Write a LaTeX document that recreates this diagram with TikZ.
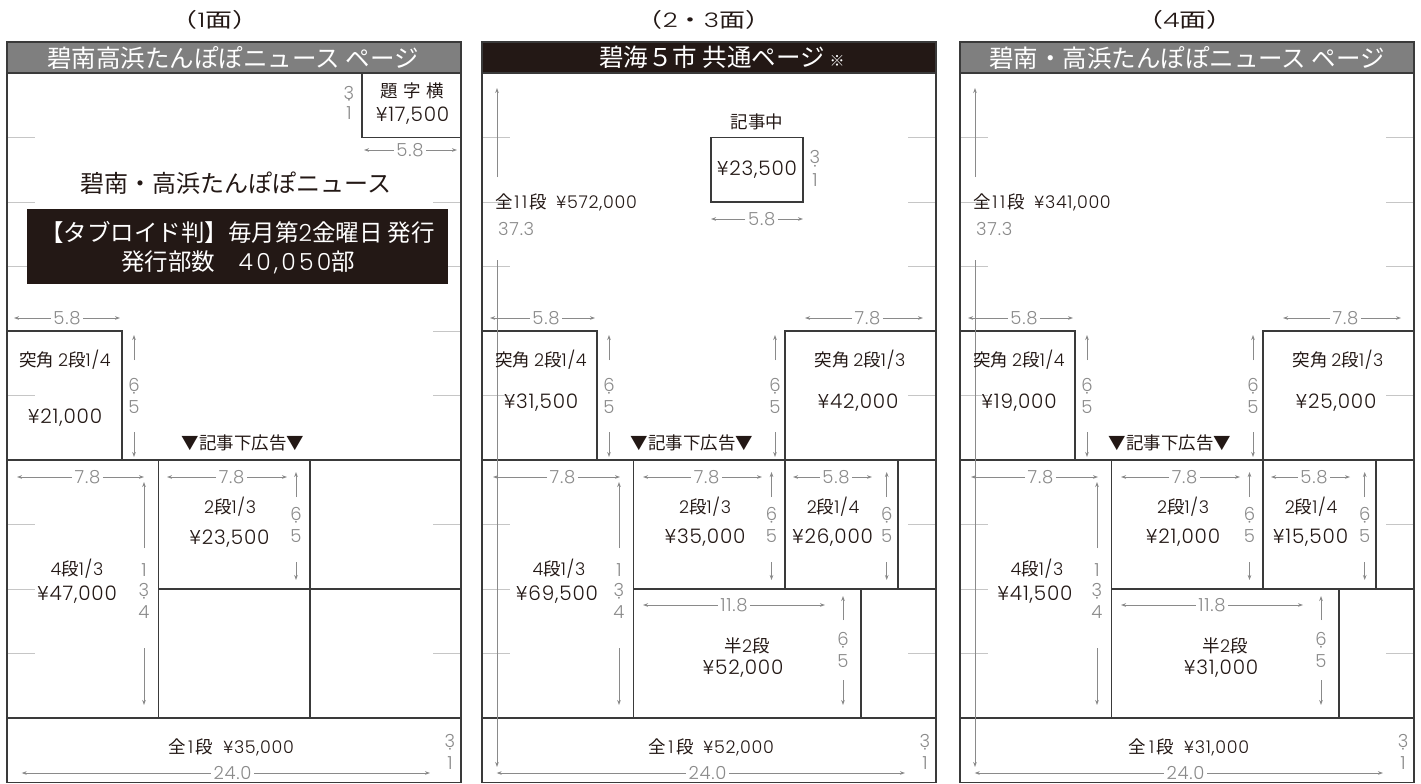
\documentclass[tikz,border=0pt]{standalone}
\usepackage{graphicx}
\usepackage{fontspec}
\setmainfont{Noto Sans CJK JP}
\newfontfamily\lat{Poppins Light}[LetterSpace=4]
\usetikzlibrary{arrows.meta}
\definecolor{ink}{HTML}{231815}
\definecolor{hdrgrey}{HTML}{7F7F7F}
\definecolor{dimgrey}{HTML}{8A8A8A}
\definecolor{tickgrey}{HTML}{C6C6C6}
\definecolor{linegrey}{HTML}{3A3A3A}

% horizontal dimension: name, x-left, x-right, x-text, y, text
\newcommand\HDim[6]{%
  \coordinate (#1l) at (#2,#5);
  \coordinate (#1r) at (#3,#5);
  \node[dimtxt] (#1) at (#4,#5) {#6};
  \draw[dimarr] (#1.west) -- (#1l);
  \draw[dimarr] (#1.east) -- (#1r);
}
% vertical dimension arrows: name, x, y-top tip, y-up end, y-down start, y-bottom tip
\newcommand\VArr[6]{%
  \coordinate (#1t) at (#2,#3);
  \coordinate (#1u) at (#2,#4);
  \coordinate (#1d) at (#2,#5);
  \coordinate (#1b) at (#2,#6);
  \draw[dimarr] (#1u) -- (#1t);
  \draw[dimarr] (#1d) -- (#1b);
}
% stacked number: name, x, y-middle, first, second, half gap
\newcommand\VNum[6]{%
  \node[vdimtxt] (#1a) at (#2,#3-#6) {#4};
  \node[vdimtxt] (#1p) at (#2,#3) {·};
  \node[vdimtxt] (#1b) at (#2,#3+#6) {#5};
}
\newcommand\SixFive[7]{% name, x, y1..y4, ymid
  \VArr{#1}{#2}{#3}{#4}{#5}{#6}
  \VNum{#1n}{#2}{#7}{6}{5}{11}
}
\newcommand\Ticks{%
  \foreach \k in {1,...,10}{%
    \draw[tick] (0,{73+64.5*\k}) -- (28,{73+64.5*\k});
    \draw[tick] (426,{73+64.5*\k}) -- (454,{73+64.5*\k});
  }%
}
\newcommand\Yen[1]{{\lat ¥#1}}
% common part of pages 2-3 and 4
% #1 full11, #2 tokkaku 1/4, #3 tokkaku 1/3, #4 2dan1/3, #5 2dan1/4, #6 4dan1/3, #7 han2dan, #8 zen1dan
\newcommand\MidPanel[8]{%
  \Ticks
  \draw[frame] (0,73) rectangle (454,782.5);
  \draw[cell] (0,331) rectangle (115,460);
  \draw[cell] (303,331) rectangle (454,460);
  \draw[cell] (0,460) -- (454,460);
  \draw[cell] (151.5,460) -- (151.5,718);
  \draw[cell] (303,460) -- (303,589);
  \draw[cell] (416,460) -- (416,589);
  \draw[cell] (151.5,589) -- (454,589);
  \draw[cell] (379,589) -- (379,718);
  \draw[cell] (0,718) -- (454,718);
  % full 11 dan
  \VArr{full}{15}{88}{177}{260}{767}
  \node[lbl,anchor=west] (fulltxt) at (13,202) {全\hspace{0.1em}{\lat 1\hspace{0.15em}1}\hspace{0.1em}段\hspace{0.55em}\Yen{#1}};
  \node[dimtxt,anchor=west,inner sep=0pt] (fulldim) at (16,229) {37.3};
  % tokkaku 2dan 1/4
  \HDim{w58}{8}{113}{64}{318}{5.8}
  \node[lbl] (tk4) at (59,360) {突角 {\lat 2}段{\lat 1/4}};
  \node[price] (tk4p) at (59,403) {\Yen{#2}};
  \SixFive{h1}{127}{335}{360}{432}{457}{396}
  \node[lbl] (kiji) at (210,443) {▼記事下広告▼};
  \SixFive{h2}{293}{335}{360}{432}{457}{396}
  % tokkaku 2dan 1/3
  \HDim{w78a}{323}{441}{385.5}{318}{7.8}
  \node[lbl] (tk3) at (378,360) {突角 {\lat 2}段{\lat 1/3}};
  \node[price] (tk3p) at (376,403) {\Yen{#3}};
  % 4dan 1/3
  \HDim{w78b}{11}{138}{80.5}{477}{7.8}
  \VArr{h3}{137}{482}{548}{648}{705}
  \node[vdimtxt] (h3one) at (137,570) {1};
  \VNum{h3n}{137}{601}{3}{4}{11}
  \node[lbl] (d4) at (77,569) {{\lat 4}段{\lat 1/3}};
  \node[price] (d4p) at (75,595) {\Yen{#6}};
  % 2dan 1/3
  \HDim{w78c}{161}{280}{224.7}{477}{7.8}
  \SixFive{h4}{289.5}{472}{497}{562}{580}{525}
  \node[lbl] (d23) at (223,507) {{\lat 2}段{\lat 1/3}};
  \node[price] (d23p) at (223,538) {\Yen{#4}};
  % 2dan 1/4
  \HDim{w58b}{311}{390}{354}{477}{5.8}
  \SixFive{h5}{404.7}{472}{497}{562}{580}{525}
  \node[lbl] (d24) at (351,507) {{\lat 2}段{\lat 1/4}};
  \node[price] (d24p) at (350.5,538) {\Yen{#5}};
  % han 2dan
  \HDim{w118}{161}{343}{252}{605}{11.8}
  \SixFive{h6}{361}{596}{620}{680}{705}{650}
  \node[lbl] (han) at (265,646) {半{\lat 2}段};
  \node[price] (hanp) at (261,669) {\Yen{#7}};
  % zen 1 dan
  \node[lbl] (z1) at (229,747) {全\hspace{0.15em}{\lat 1}\hspace{0.15em}段\hspace{0.55em}\Yen{#8}};
  \HDim{w240}{14.7}{423}{225.5}{773}{24.0}
  \VNum{h31}{443}{752}{3}{1}{11}
}

\begin{document}
\begin{tikzpicture}[x=1pt,y=-1pt,
  frame/.style={draw=linegrey,line width=1.4pt},
  cell/.style={draw=linegrey,line width=1.1pt},
  tick/.style={draw=tickgrey,line width=0.9pt},
  lbl/.style={inner sep=0pt,text=ink,font=\fontsize{17.5}{20}\selectfont},
  price/.style={inner sep=0pt,text=ink,font=\fontsize{20}{22}\selectfont},
  big/.style={inner sep=0pt,text=ink,font=\fontsize{24}{28}\selectfont},
  hdrtxt/.style={inner sep=0pt,text=white,font=\fontsize{24.5}{28}\selectfont},
  boxtxt/.style={inner sep=0pt,text=white,font=\fontsize{23.5}{28}\selectfont},
  title/.style={inner sep=0pt,text=ink,font=\fontsize{20}{24}\selectfont},
  dimtxt/.style={inner sep=2.5pt,text=dimgrey,font=\fontsize{18}{20}\selectfont\lat},
  vdimtxt/.style={inner sep=0pt,text=dimgrey,font=\fontsize{18}{20}\selectfont\lat},
  dimarr/.style={draw=dimgrey,line width=0.8pt,-{Stealth[length=5pt,width=3.6pt]}},
]
\useasboundingbox (0,0) rectangle (1421,784);

% titles
\node[title] (t1) at (215,20) {\scalebox{1.35}[1]{（{\lat 1}面）}};
\node[title] (t2) at (704,20) {\scalebox{1.3}[1]{（{\lat 2}・{\lat 3}面）}};
\node[title] (t3) at (1185,20) {\scalebox{1.35}[1]{（{\lat 4}面）}};

% ================= page 1 =================
\begin{scope}[shift={(7,0)},name prefix=p1-]
  \Ticks
  \draw[frame,fill=hdrgrey] (0,42) rectangle (454,73);
  \node[hdrtxt] (hdr) at (226,57.5) {碧南高浜たんぽぽニュース ページ};
  \draw[frame] (0,73) rectangle (454,782.5);
  % daiji yoko
  \draw[cell] (355,73) rectangle (454,137.5);
  \node[lbl] (dai) at (405,91) {題\hspace{0.3em}字\hspace{0.3em}横};
  \node[price] (daip) at (405.5,116) {\Yen{17,500}};
  \VNum{dai31}{342}{103}{3}{1}{10}
  \HDim{w58t}{357}{450}{403}{150}{5.8}
  % title block
  \node[big] (name) at (229,183) {碧南・高浜たんぽぽニュース};
  \draw[fill=ink,draw=none] (20,209) rectangle (441,284);
  \node[boxtxt] (info1) at (230.5,232) {【タブロイド判】毎月第{\lat 2}金曜日 発行};
  \node[boxtxt] (info2) at (231,262) {発行部数\hspace{1em}{\lat\addfontfeature{LetterSpace=14}40,050}部};
  % rules
  \draw[cell] (0,331) rectangle (115,460);
  \draw[cell] (0,460) -- (454,460);
  \draw[cell] (151.5,460) -- (151.5,718);
  \draw[cell] (303,460) -- (303,718);
  \draw[cell] (151.5,589) -- (454,589);
  \draw[cell] (0,718) -- (454,718);
  % tokkaku
  \HDim{w58}{7}{113}{60}{318}{5.8}
  \node[lbl] (tk4) at (58,360) {突角 {\lat 2}段{\lat 1/4}};
  \node[price] (tk4p) at (58,418) {\Yen{21,000}};
  \SixFive{h1}{127}{335}{360}{432}{457}{396}
  \node[lbl] (kiji) at (236,443) {▼記事下広告▼};
  % 4dan 1/3
  \HDim{w78b}{10}{137}{80.5}{477}{7.8}
  \VArr{h3}{137}{482}{548}{648}{705}
  \node[vdimtxt] (h3one) at (137,570) {1};
  \VNum{h3n}{137}{601}{3}{4}{11}
  \node[lbl] (d4) at (70,569) {{\lat 4}段{\lat 1/3}};
  \node[price] (d4p) at (70,595) {\Yen{47,000}};
  % 2dan 1/3
  \HDim{w78c}{160}{280}{224.7}{477}{7.8}
  \SixFive{h4}{289}{472}{497}{562}{580}{525}
  \node[lbl] (d23) at (223,507) {{\lat 2}段{\lat 1/3}};
  \node[price] (d23p) at (222.5,539) {\Yen{23,500}};
  % zen 1 dan
  \node[lbl] (z1) at (224,747) {全\hspace{0.15em}{\lat 1}\hspace{0.15em}段\hspace{0.55em}\Yen{35,000}};
  \HDim{w240}{14.7}{423}{225.5}{773}{24.0}
  \VNum{h31}{443}{752}{3}{1}{11}
\end{scope}

% ================= pages 2-3 =================
\begin{scope}[shift={(482,0)},name prefix=p2-]
  \draw[frame,fill=ink] (0,42) rectangle (454,73);
  \node[hdrtxt] (hdr) at (240,57.5) {碧海５市 共通ページ\hspace{0.2em}{\fontsize{15}{16}\selectfont ※}};
  \MidPanel{572,000}{31,500}{42,000}{35,000}{26,000}{69,500}{52,000}{52,000}
  % kiji naka
  \node[lbl] (knaka) at (275,122) {記事中};
  \draw[cell] (229,137.5) rectangle (321,202);
  \node[price] (knakap) at (275,170) {\Yen{23,500}};
  \VNum{kn31}{333}{168.5}{3}{1}{11.5}
  \HDim{wkn}{229}{321}{279.7}{219}{5.8}
\end{scope}

% ================= page 4 =================
\begin{scope}[shift={(960,0)},name prefix=p3-]
  \draw[frame,fill=hdrgrey] (0,42) rectangle (454,73);
  \node[hdrtxt] (hdr) at (227,57.5) {碧南・高浜たんぽぽニュース ページ};
  \MidPanel{341,000}{19,000}{25,000}{21,000}{15,500}{41,500}{31,000}{31,000}
\end{scope}
\end{tikzpicture}
\end{document}
